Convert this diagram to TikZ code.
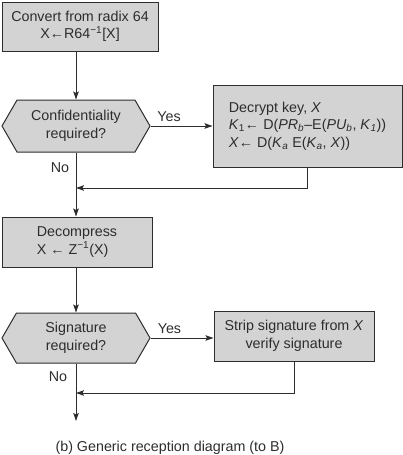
\documentclass[tikz,border=0pt]{standalone}
\usepackage{fontspec}
\setmainfont{Liberation Sans}
\definecolor{flowgray}{RGB}{211,211,211}
\definecolor{flowdark}{RGB}{45,45,45}
\usetikzlibrary{shapes.symbols,arrows.meta,positioning,calc}

\begin{document}
\begin{tikzpicture}[
  x=1pt, y=1pt,
  font=\fontsize{14.3}{17.5}\selectfont,
  text=flowdark,
  box/.style={draw=flowdark, fill=flowgray, line width=1pt, minimum height=50pt, align=center, inner sep=0pt},
  test/.style={draw=flowdark, fill=flowgray, line width=1pt, shape=signal, signal to=west and east, signal pointer angle=120, minimum width=148pt, minimum height=52pt, align=center, inner sep=0pt},
  arr/.style={-{Stealth[length=8pt,width=5.5pt,inset=1.5pt]}, line width=0.9pt, flowdark},
  lbl/.style={inner sep=1pt}
]
\useasboundingbox (0,0) rectangle (403,-455);

% main column
\node[box, minimum width=156pt, minimum height=49pt] (conv) at (80,-26.5) {Convert from radix 64\\X←R64\textsuperscript{−1}[X]};
\node[test] (conf) at (76,-126) {Confidentiality\\required?};
\node[box, minimum width=150pt, align=left] (dcmp) at (77,-242) {Decompress\\X ← Z\textsuperscript{−1}(X)};
\node[test, minimum height=50pt] (sig) at (76,-338) {Signature\\required?};

% side boxes
\node[box, minimum width=189pt, minimum height=82pt, align=left] (dec) at (307.5,-126) {Decrypt key, \textit{X}\\
  \textit{K}\textsubscript{1}← D(\textit{PR}\textsubscript{\textit{b}}–E(\textit{PU}\textsubscript{\textit{b}}, \textit{K}\textsubscript{\textit{1}}))\\
  \textit{X}← D(\textit{K}\textsubscript{\textit{a}} E(\textit{K}\textsubscript{\textit{a}}, \textit{X}))};
\node[box, minimum width=160pt] (strip) at (294,-336) {Strip signature from \textit{X}\\verify signature};

\coordinate (join1) at (76,-188);
\coordinate (join2) at (76,-393);
\coordinate (out) at (76,-421);

\draw[arr] (conv.south -| conf.north) -- (conf.north);
\draw[arr] (conf.east) -- (conf.east -| dec.west) node[lbl, pos=0.3, above=3pt] (yesA) {Yes};
\draw[arr] (conf.south) -- (dcmp.north -| conf.south);
\draw[arr] (dec.south) |- (join1);
\draw[arr] (dcmp.south -| sig.north) -- (sig.north);
\draw[arr] (sig.east) -- (sig.east -| strip.west) node[lbl, pos=0.3, above=3pt] (yesB) {Yes};
\draw[arr] (strip.south) |- (join2);
\draw[arr] (sig.south) -- (out);

\node[lbl] (noA) at (60,-168) {No};
\node[lbl] (noB) at (58,-377) {No};
\node[lbl] (cap) at (170,-448) {(b) Generic reception diagram (to B)};
\end{tikzpicture}
\end{document}
